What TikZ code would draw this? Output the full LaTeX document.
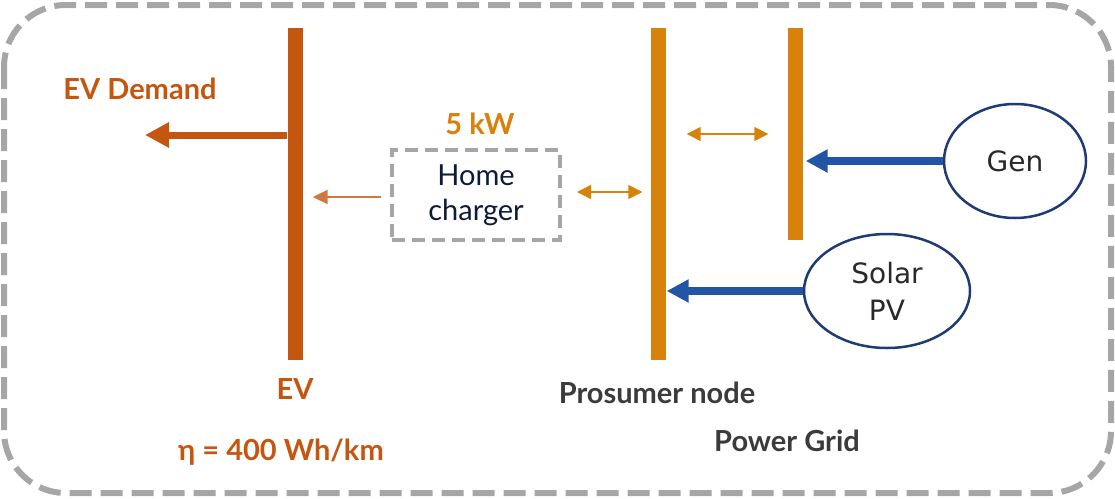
\documentclass[tikz,border=0pt]{standalone}
\usepackage{fontspec}
\setmainfont{Lato}
\newfontfamily\ovalfont{DejaVu Sans}
\usetikzlibrary{arrows.meta, positioning, shapes.geometric}

\definecolor{evbrown}{HTML}{C5560F}
\definecolor{gridorange}{HTML}{D7820A}
\definecolor{genblue}{HTML}{2255A4}
\definecolor{ovalblue}{HTML}{1F3B73}
\definecolor{framegray}{HTML}{A6A6A6}
\definecolor{labelgray}{HTML}{3B3B3B}
\definecolor{chargernavy}{HTML}{0D1B3A}

\begin{document}
\begin{tikzpicture}[
        x=1pt, y=-1pt,
        bus/.style={
            rectangle,
            inner sep=0pt,
            minimum width=15pt
        },
        evbus/.style={
            bus,
            fill=evbrown
        },
        gridbus/.style={
            bus,
            fill=gridorange
        },
        source/.style={
            ellipse,
            draw=ovalblue,
            line width=2.5pt,
            inner sep=0pt,
            minimum height=114pt,
            align=center,
            font=\ovalfont\fontsize{28}{37}\selectfont,
            text=labelgray!70!black
        },
        feedarrow/.style={
            -{Triangle[length=22pt, width=22pt]},
            line width=8pt,
            genblue
        },
        linkarrow/.style={
            {Triangle[length=14pt, width=14pt]}-{Triangle[length=14pt, width=14pt]},
            line width=1.6pt,
            gridorange
        },
        caption/.style={
            font=\bfseries\fontsize{29}{33}\selectfont,
            inner sep=0pt
        }
    ]

        \useasboundingbox (0,0) rectangle (1115,498);

        % ---------------------------------------------------------------------
        % Outer frame
        % ---------------------------------------------------------------------

        \draw[
            framegray,
            line width=6pt,
            rounded corners=62pt,
            dash pattern=on 22pt off 9pt
        ] (4,5) rectangle (1111,493);

        % ---------------------------------------------------------------------
        % Buses
        % ---------------------------------------------------------------------

        \node[evbus, minimum height=332pt] (ev) at (295,194) {};
        \node[gridbus, minimum height=332pt] (prosumer) at (658,194) {};
        \node[gridbus, minimum height=212pt] (grid) at (795,134) {};

        % ---------------------------------------------------------------------
        % Home charger and sources
        % ---------------------------------------------------------------------

        \node[
            draw=framegray,
            line width=4pt,
            dash pattern=on 13pt off 7pt,
            minimum width=168pt,
            minimum height=90pt,
            align=center,
            text=chargernavy,
            font=\fontsize{29}{35}\selectfont
        ] (charger) at (476,195) {Home\\charger};

        \node[source, minimum width=142pt] (gen) at (1015,161) {Gen};
        \node[source, minimum width=166pt] (solar) at (887,291) {Solar\\PV};

        % ---------------------------------------------------------------------
        % Connectors
        % ---------------------------------------------------------------------

        \coordinate (demand) at (145,135);
        \draw[
            -{Triangle[length=24pt, width=24pt]},
            line width=7pt,
            evbrown
        ] (ev.west |- demand) -- (demand);

        \draw[
            -{Triangle[length=15pt, width=14pt]},
            line width=1.8pt,
            evbrown!80!white,
            shorten <=9pt,
            shorten >=10pt
        ] ([yshift=-2pt]charger.west) -- ([yshift=-2pt]charger.west -| ev.east);

        \draw[linkarrow, shorten <=15pt, shorten >=8pt]
            ([yshift=3pt]charger.east) -- ([yshift=3pt]charger.east -| prosumer.west);

        \coordinate (link) at (700,134);
        \draw[linkarrow, shorten <=21pt, shorten >=19pt]
            (prosumer.east |- link) -- (grid.west |- link);

        \draw[feedarrow, shorten >=3pt] (gen.west) -- (gen.west -| grid.east);
        \draw[feedarrow, shorten >=1pt] (solar.west) -- (solar.west -| prosumer.east);

        % ---------------------------------------------------------------------
        % Labels
        % ---------------------------------------------------------------------

        \node[caption, evbrown] (demandlabel) at (140,89) {EV Demand};
        \node[caption, gridorange] (powerlabel) at (480,124) {5 kW};
        \node[caption, evbrown, below=18pt of ev] (evlabel) {EV};
        \node[caption, evbrown] (etalabel) at (281,452) {η = 400 Wh/km};
        \node[caption, labelgray] (prosumerlabel) at (657,393) {Prosumer node};
        \node[caption, labelgray] (gridlabel) at (787,441) {Power Grid};

    \end{tikzpicture}
\end{document}
